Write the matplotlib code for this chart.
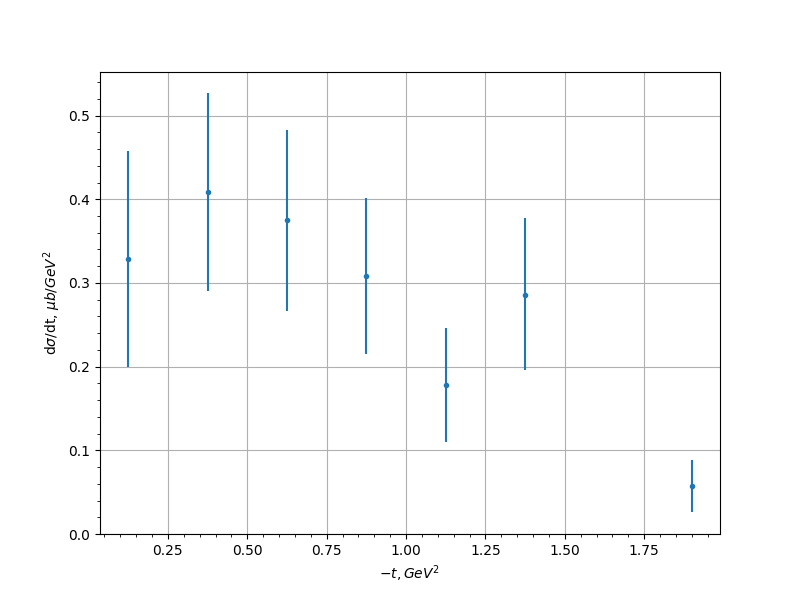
import matplotlib
matplotlib.use("Agg")
import matplotlib.pyplot as plt

t_vals = [0.125, 0.375, 0.625, 0.875, 1.125, 1.375, 1.9]
dsigma = [0.329, 0.409, 0.375, 0.308, 0.178, 0.286, 0.057]
err_low = [0.129, 0.119, 0.108, 0.093, 0.068, 0.090, 0.031]
err_high = [0.129, 0.118, 0.108, 0.093, 0.068, 0.091, 0.031]

fig, ax = plt.subplots(figsize=(8, 6), dpi=100)
ax.errorbar(t_vals, dsigma, yerr=[err_low, err_high], fmt='.')
ax.set_ylim(bottom=0)
ax.set_xlabel(r'$-t, GeV^2$')
ax.set_ylabel(r'd$\sigma$/dt, $\mu b/GeV^2$')
ax.minorticks_on()
ax.grid(True, which='major')
fig.savefig('out.png')
